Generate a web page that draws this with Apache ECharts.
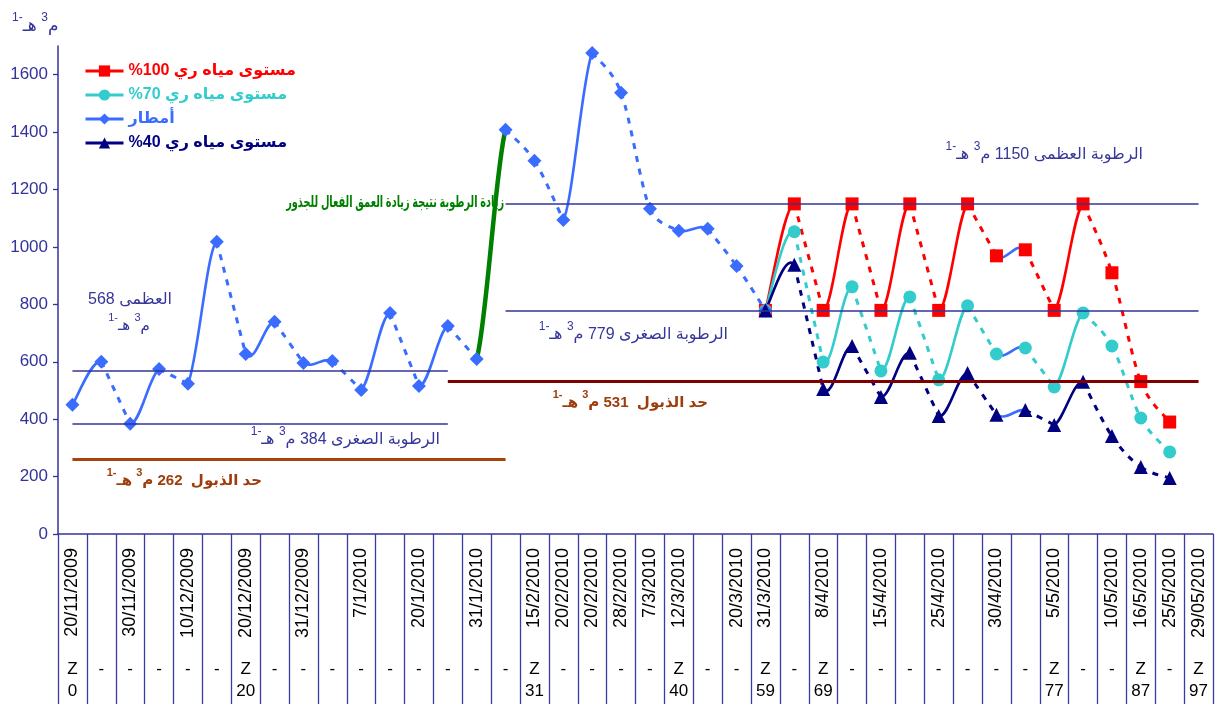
<!DOCTYPE html>
<html>
<head>
<meta charset="utf-8">
<script src="https://cdn.jsdelivr.net/npm/echarts@6/dist/echarts.min.js"></script>
<style>
  html, body { margin: 0; padding: 0; background: #fff; }
  #chart { width: 1216px; height: 704px; }
</style>
</head>
<body>
<div id="chart"></div>
<script>
// Sampling dates (blank bands are unlabelled intervals)
const dates = ['20/11/2009','','30/11/2009','','10/12/2009','','20/12/2009','','31/12/2009','',
  '7/1/2010','','20/1/2010','','31/1/2010','','15/2/2010','20/2/2010','20/2/2010','28/2/2010',
  '7/3/2010','12/3/2010','','20/3/2010','31/3/2010','','8/4/2010','','15/4/2010','',
  '25/4/2010','','30/4/2010','','5/5/2010','','10/5/2010','16/5/2010','25/5/2010','29/05/2010'];

// Root-zone depth row (cm) under the dates
const depthRow = ['Z\n0','-','-','-','-','-','Z\n20','-','-','-','-','-','-','-','-','-',
  'Z\n31','-','-','-','-','Z\n40','-','-','Z\n59','-','Z\n69','-','-','-','-','-','-','-',
  'Z\n77','-','-','Z\n87','-','Z\n97'];

const yTicks = [0, 200, 400, 600, 800, 1000, 1200, 1400, 1600];

// Soil moisture, m3/ha
const rain = [450, 600, 384, 575, 523, 1018, 627, 739, 596, 603, 502, 770, 516, 725, 610,
  1408, 1300, 1094, 1676, 1537, 1133, 1056, 1063, 934, 779,
  null, null, null, null, null, null, null, null, null, null, null, null, null, null, null];

const pad = new Array(24).fill(null);
const irr100 = pad.concat([779, 1150, 779, 1150, 779, 1150, 779, 1150, 969, 990, 779, 1150, 910, 531, 390, null]);
const irr70  = pad.concat([779, 1053, 599, 861, 568, 826, 537, 795, 627, 648, 512, 770, 655, 404, 286, null]);
const irr40  = pad.concat([779, 938, 505, 655, 477, 631, 411, 561, 415, 432, 380, 530, 341, 233, 195, null]);

// What happens between a point and the next one
const rainPhases = ['rise','dry','rise','dry','rise','dry','rise','dry','rise','dry','rise','dry',
  'rise','dry','root','dry','dry','rise','dry','dry','dry','rise','dry','dry'];
const irrPhases = pad.concat(['rise','dry','rise','dry','rise','dry','rise','dry','rain','dry',
  'rise','dry','dry','dry']);

// Moisture limits, m3/ha
const fieldMax1 = 568, fieldMin1 = 384, wilt1 = 262;
const fieldMax2 = 1150, fieldMin2 = 779, wilt2 = 531;

const names = {
  i100: '%100 مستوى مياه ري',
  i70: '%70 مستوى مياه ري',
  rain: 'أمطار',
  i40: '%40 مستوى مياه ري'
};

const FONT = '"Liberation Sans", Arial, "DejaVu Sans", sans-serif';
const NAVY_TXT = '#35359a';
const BROWN = '#9e3c0c';
const RAIN_BLUE = '#3a6cff';
const GREEN = '#008000';

function dist(a, b) { return Math.hypot(a[0] - b[0], a[1] - b[1]); }

// Smoothed segment: cubic Bezier whose arms follow the neighbouring points,
// each arm kept to at most half the segment length.
function controlPoints(p0, p1, p2, p3) {
  const d12 = dist(p1, p2), d02 = dist(p0, p2), d13 = dist(p1, p3);
  let f1 = 1 / 6, f2 = 1 / 6;
  if (d02 / 6 >= d12 / 2 && d02 > 0) f1 = d12 / 2 / d02;
  if (d13 / 6 >= d12 / 2 && d13 > 0) f2 = d12 / 2 / d13;
  return [
    [p1[0] + (p2[0] - p0[0]) * f1, p1[1] + (p2[1] - p0[1]) * f1],
    [p2[0] - (p3[0] - p1[0]) * f2, p2[1] - (p3[1] - p1[1]) * f2]
  ];
}

function curveSeries(values, phases, color) {
  const data = [];
  for (let i = 0; i < values.length - 1; i++) {
    if (values[i] != null && values[i + 1] != null) data.push([i, values[i], values[i + 1]]);
  }
  return {
    type: 'custom',
    z: 2,
    silent: true,
    clip: false,
    encode: { x: 0, y: [1, 2] },
    data: data,
    renderItem: function (params, api) {
      const i = api.value(0);
      const ph = phases[i];
      const pt = function (k) {
        return (k >= 0 && k < values.length && values[k] != null) ? api.coord([k, values[k]]) : null;
      };
      const p1 = pt(i), p2 = pt(i + 1);
      // a drying run bends only with its own points
      const usePrev = ph !== 'dry' || phases[i - 1] === 'dry';
      const useNext = ph !== 'dry' || phases[i + 1] === 'dry';
      const p0 = (usePrev && pt(i - 1)) || p1;
      const p3 = (useNext && pt(i + 2)) || p2;
      const cp = controlPoints(p0, p1, p2, p3);
      let style = { stroke: color, lineWidth: 2.6, fill: null };
      if (ph === 'dry') style = { stroke: color, lineWidth: 3, lineDash: [6, 7], fill: null };
      else if (ph === 'rain') style = { stroke: RAIN_BLUE, lineWidth: 2.6, fill: null };
      else if (ph === 'root') style = { stroke: GREEN, lineWidth: 4.5, fill: null };
      return {
        type: 'bezierCurve',
        shape: { x1: p1[0], y1: p1[1], x2: p2[0], y2: p2[1],
                 cpx1: cp[0][0], cpy1: cp[0][1], cpx2: cp[1][0], cpy2: cp[1][1] },
        style: style
      };
    }
  };
}

function markerSeries(name, values, symbol, size, color) {
  return {
    name: name,
    type: 'line',
    data: values,
    symbol: symbol,
    symbolSize: size,
    showAllSymbol: true,
    connectNulls: false,
    silent: true,
    z: 3,
    itemStyle: { color: color },
    lineStyle: { color: color, width: 3, opacity: 0 }
  };
}

function span(v, a, b, color, width) {
  return [
    { coord: [a, v], lineStyle: { color: color, width: width, type: 'solid' } },
    { coord: [b, v] }
  ];
}

// Annotation text with superscripts; parts are given left to right as drawn
function note(x, y, rich, color, size, weight, align, sx) {
  return {
    type: 'text',
    x: x, y: y,
    scaleX: sx || 1,
    silent: true,
    style: {
      text: rich,
      align: align, verticalAlign: 'middle',
      textAlign: align, textVerticalAlign: 'middle',
      fill: color,
      fontFamily: FONT,
      fontSize: size,
      fontWeight: weight,
      rich: {
        a: { fontSize: size, fontWeight: weight, fill: color, fontFamily: FONT, lineHeight: size + 6, verticalAlign: 'bottom' },
        s: { fontSize: Math.round(size * 0.72), fontWeight: weight, fill: color, fontFamily: FONT, lineHeight: size + 6, verticalAlign: 'top' }
      }
    }
  };
}
const unitParts = '{s|1-}{a|هـ }{s|3}{a|م}';

const chart = echarts.init(document.getElementById('chart'), null, { renderer: 'canvas' });

const option = {
  animation: false,
  backgroundColor: '#ffffff',
  grid: { left: 58, right: 3, top: 46, bottom: 170, containLabel: false },
  legend: {
    orient: 'vertical',
    left: 79,
    top: 58,
    itemWidth: 38,
    itemHeight: 14,
    itemGap: 8,
    selectedMode: false,
    lineStyle: { width: 3, opacity: 1 },
    textStyle: { fontSize: 16, fontWeight: 'bold', fontFamily: FONT },
    data: [
      { name: names.i100, textStyle: { color: '#ff0000' } },
      { name: names.i70, textStyle: { color: '#33cccc' } },
      { name: names.rain, textStyle: { color: RAIN_BLUE } },
      { name: names.i40, textStyle: { color: '#000080' } }
    ]
  },
  xAxis: [
    {
      type: 'category',
      data: dates,
      boundaryGap: true,
      axisLine: { show: true, lineStyle: { color: '#333399', width: 1.5 } },
      axisTick: { show: true, interval: 0, length: 170, lineStyle: { color: '#3a3aa6', width: 1.3 } },
      axisLabel: { interval: 0, rotate: 90, fontSize: 18, color: '#000', margin: 14, fontFamily: FONT },
      splitLine: { show: false }
    },
    {
      type: 'category',
      data: depthRow,
      position: 'bottom',
      offset: 116,
      boundaryGap: true,
      axisLine: { show: false },
      axisTick: { show: false },
      axisLabel: { interval: 0, fontSize: 17, lineHeight: 22, color: '#000', margin: 8, fontFamily: FONT },
      splitLine: { show: false }
    }
  ],
  yAxis: {
    type: 'value',
    min: 0,
    max: 1700,
    interval: 200,
    axisLine: { show: true, lineStyle: { color: '#333399', width: 1.5 } },
    axisTick: { show: true, length: 5, customValues: yTicks, lineStyle: { color: '#333399', width: 1.3 } },
    axisLabel: {
      customValues: yTicks,
      color: '#333399', fontSize: 17, margin: 10, fontFamily: FONT,
      formatter: function (v) { return yTicks.indexOf(v) >= 0 ? String(v) : ''; }
    },
    splitLine: { show: false }
  },
  series: [
    {
      name: 'limits',
      type: 'line',
      data: new Array(dates.length).fill(null),
      z: 1,
      silent: true,
      symbol: 'none',
      markLine: {
        silent: true,
        symbol: 'none',
        label: { show: false },
        animation: false,
        data: [
          span(fieldMax1, 0, 13, '#333399', 1.5),
          span(fieldMin1, 0, 13, '#333399', 1.5),
          span(wilt1, 0, 15, '#a6420d', 3),
          span(fieldMax2, 15, 39, '#333399', 1.5),
          span(fieldMin2, 15, 39, '#333399', 1.5),
          span(wilt2, 13, 39, '#800000', 3)
        ]
      }
    },
    curveSeries(rain, rainPhases, RAIN_BLUE),
    curveSeries(irr100, irrPhases, '#ff0000'),
    curveSeries(irr70, irrPhases, '#33cccc'),
    curveSeries(irr40, irrPhases, '#000080'),
    markerSeries(names.i100, irr100, 'rect', 13, '#ff0000'),
    markerSeries(names.i70, irr70, 'circle', 13, '#33cccc'),
    markerSeries(names.rain, rain, 'diamond', 14, RAIN_BLUE),
    markerSeries(names.i40, irr40, 'triangle', 14, '#000080')
  ],
  graphic: [
    note(12, 23, unitParts, NAVY_TXT, 17, 'normal', 'left'),
    note(130, 297, '{a|' + fieldMax1 + ' العظمى}', NAVY_TXT, 16, 'normal', 'center'),
    note(129, 323, unitParts, NAVY_TXT, 15, 'normal', 'center'),
    note(440, 437, unitParts + '{a| ' + fieldMin1 + ' }{a|الرطوبة الصغرى}', NAVY_TXT, 16, 'normal', 'right'),
    note(262, 478, unitParts + '{a| ' + wilt1 + '  }{a|حد الذبول}', BROWN, 15, 'bold', 'right'),
    note(504, 200, '{a|زيادة الرطوبة نتيجة زيادة العمق الفعال للجذور}', GREEN, 16, 'bold', 'right', 0.61),
    note(1143, 152, unitParts + '{a| ' + fieldMax2 + ' }{a|الرطوبة العظمى}', NAVY_TXT, 16, 'normal', 'right'),
    note(728, 332, unitParts + '{a| ' + fieldMin2 + ' }{a|الرطوبة الصغرى}', NAVY_TXT, 16, 'normal', 'right'),
    note(708, 400, unitParts + '{a| ' + wilt2 + '  }{a|حد الذبول}', BROWN, 15, 'bold', 'right')
  ]
};

chart.setOption(option);
</script>
</body>
</html>
